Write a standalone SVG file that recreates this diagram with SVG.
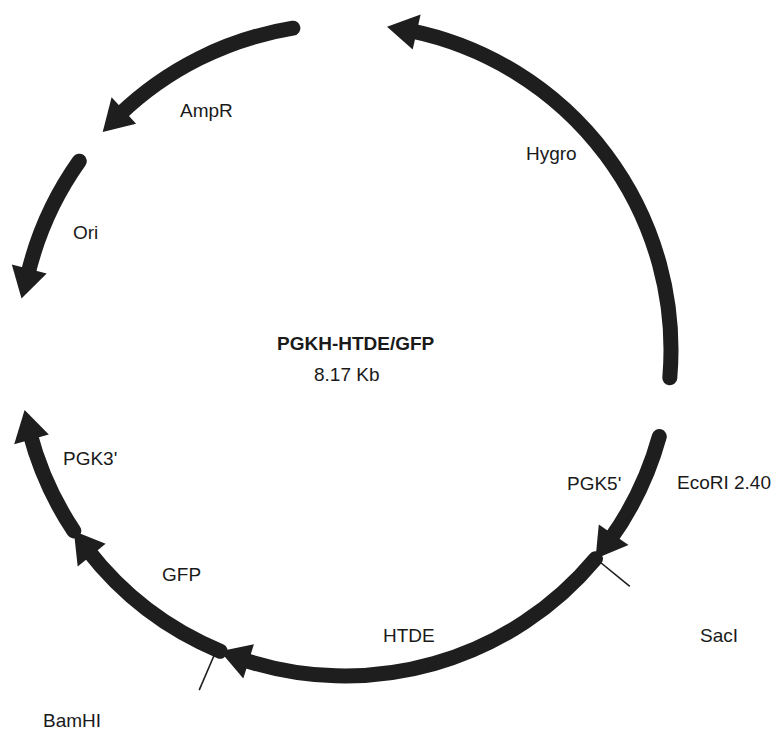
<svg xmlns="http://www.w3.org/2000/svg" width="776" height="733" viewBox="0 0 776 733">
<style>
.arc{fill:none;stroke:#1e1e1e;stroke-width:15;stroke-linecap:round}
.head{fill:#1e1e1e;stroke:none}
.tick{stroke:#1e1e1e;stroke-width:1.6;fill:none}
text{font-family:"Liberation Sans",Arial,sans-serif;font-size:19px;fill:#1a1a1a}
.title{font-weight:bold}
</style>
<rect width="776" height="733" fill="#ffffff"/>
<g id="hygro">
<path class="arc" d="M 669.8 377.8 A 326 326 0 0 0 410.0 30.6"/>
<polygon class="head" points="387.0,26.7 412.7,49.5 420.6,14.4"/>
<text x="526" y="160">Hygro</text>
</g>
<g id="ampr">
<path class="arc" d="M 292.9 28.2 A 326 326 0 0 0 119.0 115.1"/>
<polygon class="head" points="102.7,131.9 136.1,123.7 111.6,97.3"/>
<text x="180" y="117">AmpR</text>
</g>
<g id="ori">
<path class="arc" d="M 79.3 161.2 A 326 326 0 0 0 27.6 275.6"/>
<polygon class="head" points="21.5,298.6 46.7,273.4 11.8,264.5"/>
<text x="73" y="239">Ori</text>
</g>
<g id="pgk5">
<path class="arc" d="M 659.3 436.6 A 326 326 0 0 1 609.7 540.2"/>
<polygon class="head" points="595.5,558.7 598.8,524.5 628.5,544.9"/>
<text x="567" y="490">PGK5'</text>
</g>
<g id="htde">
<path class="arc" d="M 595.5 558.7 A 326 326 0 0 1 242.1 659.3"/>
<polygon class="head" points="220.2,651.2 253.9,644.2 243.3,678.6"/>
<text x="383" y="642">HTDE</text>
</g>
<g id="gfp">
<path class="arc" d="M 220.2 651.2 A 326 326 0 0 1 87.4 549.7"/>
<polygon class="head" points="73.8,530.9 105.6,543.8 77.7,566.5"/>
<text x="162" y="581">GFP</text>
</g>
<g id="pgk3">
<path class="arc" d="M 73.8 530.9 A 326 326 0 0 1 29.7 432.7"/>
<polygon class="head" points="24.6,410.0 48.8,434.4 14.2,444.2"/>
<text x="63" y="465">PGK3'</text>
</g>
<g id="sites">
<line class="tick" x1="597.5" y1="560.0" x2="629.8" y2="586.3"/>
<line class="tick" x1="215.0" y1="653.3" x2="199.2" y2="690.1"/>
</g>
<g id="labels">
<text x="677" y="489">EcoRI 2.40</text>
<text x="700" y="642">SacI</text>
<text x="43" y="727">BamHI</text>
</g>
<g id="center">
<text class="title" x="277" y="350">PGKH-HTDE/GFP</text>
<text x="314" y="381">8.17 Kb</text>
</g>
</svg>
